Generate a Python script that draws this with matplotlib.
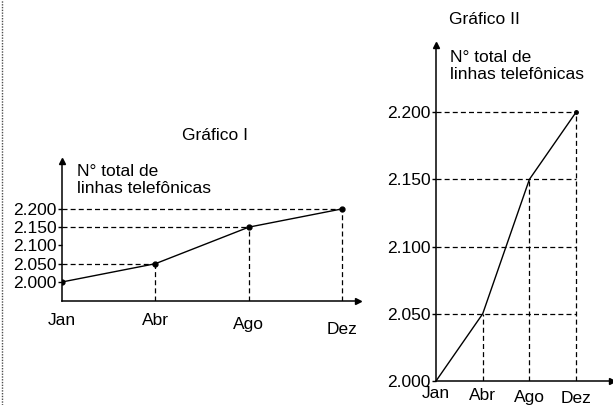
import matplotlib
matplotlib.use('Agg')
import matplotlib.pyplot as plt

plt.rcParams['font.family'] = ['Liberation Sans', 'DejaVu Sans']
plt.rcParams['font.size'] = 12.5

# dados dos dois gráficos
meses = ['Jan', 'Abr', 'Ago', 'Dez']
linhas = [2000, 2050, 2150, 2200]
ticks_y = [2000, 2050, 2100, 2150, 2200]
rotulos_y = ['2.000', '2.050', '2.100', '2.150', '2.200']
rotulo_eixo = 'N° total de\nlinhas telefônicas'

# deslocamento (px) dos rótulos do eixo x, como no original
desloc_I = [20, 20, 24, 29]
desloc_II = [13, 15, 17, 18]

fig = plt.figure(figsize=(6.13, 4.05), dpi=100)
fig.add_artist(plt.Line2D([0.003, 0.003], [0, 1], color='0.3', lw=1, ls=(0, (1, 1))))

def eixos(ax):
    for s in ['top', 'right']:
        ax.spines[s].set_visible(False)
    for s in ['left', 'bottom']:
        ax.spines[s].set_linewidth(1.1)
    ax.plot(1, 0, '>k', ms=5, transform=ax.transAxes, clip_on=False)
    ax.plot(0, 1, '^k', ms=5, transform=ax.transAxes, clip_on=False)
    ax.set_xticks([])
    ax.set_yticks(ticks_y)
    ax.set_yticklabels(rotulos_y)
    ax.tick_params(axis='y', length=3, width=1, pad=1)
    ax.patch.set_alpha(0)

x = list(range(len(meses)))
tr = dict(color='k', lw=0.9, ls=(0, (4, 2.5)))

# Gráfico I
ax1 = fig.add_axes([0.1011, 0.2568, 0.4829, 0.3457])
eixos(ax1)
ax1.set_xlim(0, 3.17)
ax1.set_ylim(1948, 2331)
for i in range(1, 4):
    ax1.plot([x[i], x[i]], [1948, linhas[i]], **tr)
    ax1.plot([0, x[i]], [linhas[i], linhas[i]], **tr)
ax1.plot(x, linhas, color='k', lw=1, marker='o', ms=3.5)
for i, m in enumerate(meses):
    ax1.annotate(m, (x[i], 0), xycoords=('data', 'axes fraction'),
                 xytext=(0, -desloc_I[i]), textcoords='offset pixels',
                 ha='center', va='center')
ax1.text(0.05, 0.975, rotulo_eixo, transform=ax1.transAxes, va='top', ha='left',
         linespacing=1.15)
fig.text(215 / 613, 1 - 136 / 405, 'Gráfico I', ha='center', va='center')

# Gráfico II
ax2 = fig.add_axes([0.7113, 0.0593, 0.2871, 0.8296])
eixos(ax2)
ax2.set_xlim(0, 3.77)
ax2.set_ylim(2000, 2250)
for v in ticks_y[1:]:
    ax2.plot([0, x[3]], [v, v], **tr)
for i in range(1, 4):
    ax2.plot([x[i], x[i]], [2000, linhas[i]], **tr)
ax2.plot(x, linhas, color='k', lw=1)
ax2.plot(x[3], linhas[3], 'ko', ms=2.5)
for i, m in enumerate(meses):
    ax2.annotate(m, (x[i], 0), xycoords=('data', 'axes fraction'),
                 xytext=(0, -desloc_II[i]), textcoords='offset pixels',
                 ha='center', va='center')
ax2.text(0.08, 0.985, rotulo_eixo, transform=ax2.transAxes, va='top', ha='left',
         linespacing=1.15)
fig.text(484 / 613, 1 - 20 / 405, 'Gráfico II', ha='center', va='center')

fig.savefig('out.png', dpi=100)
